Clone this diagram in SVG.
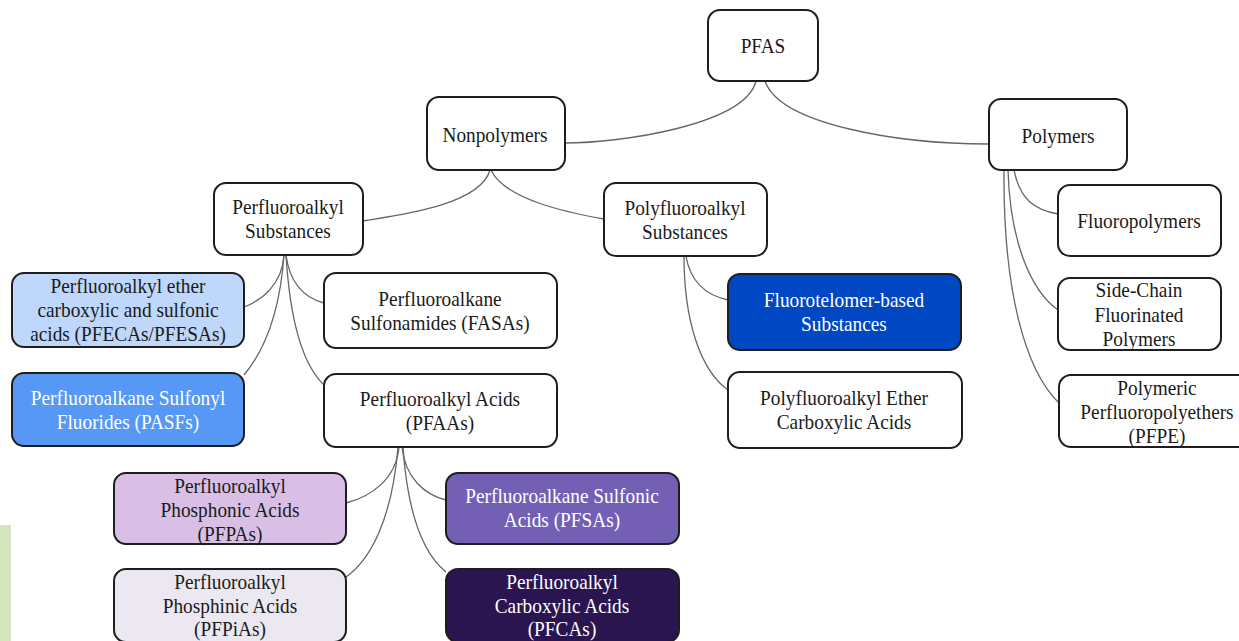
<svg xmlns="http://www.w3.org/2000/svg" width="1239" height="641" viewBox="0 0 1239 641">
<style>
.box{stroke:#1e1e1e;stroke-width:2;}
.t{font-family:"Liberation Serif","Times New Roman",serif;font-size:21px;fill:#1a1a1a;text-anchor:middle;transform-box:fill-box;transform-origin:center;transform:scaleX(0.92);}
.w{fill:#ffffff;}
.c{fill:none;stroke:#666;stroke-width:1.3;}
</style>
<rect x="0" y="0" width="1239" height="641" fill="#ffffff"/>
<rect id="greenbar" x="0" y="525" width="11" height="116" fill="#d5e4bd"/>
<g id="connectors">
<path class="c" d="M756,81 C745,125 620,143 565,143"/>
<path class="c" d="M765,81 C780,125 900,144 989,144"/>
<path class="c" d="M490,170 C480,205 400,215 363,221"/>
<path class="c" d="M491,170 C505,200 570,213 604,219"/>
<path class="c" d="M1014,170 C1020,200 1035,210 1058,214"/>
<path class="c" d="M1008,170 C1010,240 1030,290 1058,310"/>
<path class="c" d="M1004,170 C1003,290 1025,370 1059,403"/>
<path class="c" d="M284,255 C282,285 262,300 244,307"/>
<path class="c" d="M286,255 C290,285 305,298 324,303"/>
<path class="c" d="M284,255 C280,310 265,350 244,375"/>
<path class="c" d="M286,255 C290,320 303,365 324,385"/>
<path class="c" d="M686,256 C690,280 705,295 728,300"/>
<path class="c" d="M684,256 C684,320 700,370 728,390"/>
<path class="c" d="M399,447 C396,480 370,497 346,503"/>
<path class="c" d="M402,447 C405,478 425,495 446,500"/>
<path class="c" d="M398,447 C392,520 370,560 346,577"/>
<path class="c" d="M403,447 C408,520 425,555 446,572"/>
</g>
<g id="pfas">
<rect class="box" x="708" y="10" width="110" height="71" rx="12" fill="#fff"/>
<text class="t" x="763" y="53">PFAS</text>
</g>
<g id="nonpolymers">
<rect class="box" x="427" y="97" width="138" height="73" rx="12" fill="#fff"/>
<text class="t" x="495" y="142">Nonpolymers</text>
</g>
<g id="polymers">
<rect class="box" x="989" y="99" width="138" height="71" rx="12" fill="#fff"/>
<text class="t" x="1058" y="143">Polymers</text>
</g>
<g id="perfluoroalkyl-substances">
<rect class="box" x="214" y="183" width="149" height="72" rx="12" fill="#fff"/>
<text class="t" x="288" y="214">Perfluoroalkyl</text>
<text class="t" x="288" y="238">Substances</text>
</g>
<g id="polyfluoroalkyl-substances">
<rect class="box" x="604" y="183" width="163" height="73" rx="12" fill="#fff"/>
<text class="t" x="685" y="215">Polyfluoroalkyl</text>
<text class="t" x="685" y="239">Substances</text>
</g>
<g id="fluoropolymers">
<rect class="box" x="1058" y="185" width="163" height="71" rx="12" fill="#fff"/>
<text class="t" x="1139" y="228">Fluoropolymers</text>
</g>
<g id="pfecas">
<rect class="box" x="12" y="273" width="232" height="74" rx="12" fill="#bfd7fb"/>
<text class="t" x="128" y="293">Perfluoroalkyl ether</text>
<text class="t" x="128" y="317">carboxylic and sulfonic</text>
<text class="t" x="128" y="341">acids (PFECAs/PFESAs)</text>
</g>
<g id="fasas">
<rect class="box" x="324" y="273" width="233" height="75" rx="12" fill="#fff"/>
<text class="t" x="440" y="306">Perfluoroalkane</text>
<text class="t" x="440" y="330">Sulfonamides (FASAs)</text>
</g>
<g id="fluorotelomer">
<rect class="box" x="728" y="274" width="233" height="76" rx="12" fill="#0047c4"/>
<text class="t w" x="844" y="307">Fluorotelomer-based</text>
<text class="t w" x="844" y="331">Substances</text>
</g>
<g id="side-chain">
<rect class="box" x="1058" y="278" width="163" height="72" rx="12" fill="#fff"/>
<text class="t" x="1139" y="297">Side-Chain</text>
<text class="t" x="1139" y="322">Fluorinated</text>
<text class="t" x="1139" y="346">Polymers</text>
</g>
<g id="pasfs">
<rect class="box" x="12" y="373" width="232" height="73" rx="12" fill="#5798f7"/>
<text class="t w" x="128" y="405">Perfluoroalkane Sulfonyl</text>
<text class="t w" x="128" y="429">Fluorides (PASFs)</text>
</g>
<g id="pfaas">
<rect class="box" x="324" y="374" width="233" height="73" rx="12" fill="#fff"/>
<text class="t" x="440" y="406">Perfluoroalkyl Acids</text>
<text class="t" x="440" y="430">(PFAAs)</text>
</g>
<g id="ether-carboxylic">
<rect class="box" x="728" y="372" width="234" height="76" rx="12" fill="#fff"/>
<text class="t" x="844" y="405">Polyfluoroalkyl Ether</text>
<text class="t" x="844" y="429">Carboxylic Acids</text>
</g>
<g id="pfpe">
<rect class="box" x="1059" y="375" width="196" height="72" rx="12" fill="#fff"/>
<text class="t" x="1157" y="395">Polymeric</text>
<text class="t" x="1157" y="419">Perfluoropolyethers</text>
<text class="t" x="1157" y="443">(PFPE)</text>
</g>
<g id="pfpas">
<rect class="box" x="114" y="473" width="232" height="71" rx="12" fill="#d9bfe6"/>
<text class="t" x="230" y="493">Perfluoroalkyl</text>
<text class="t" x="230" y="517">Phosphonic Acids</text>
<text class="t" x="230" y="541">(PFPAs)</text>
</g>
<g id="pfsas">
<rect class="box" x="446" y="473" width="233" height="71" rx="12" fill="#735fb4"/>
<text class="t w" x="562" y="503">Perfluoroalkane Sulfonic</text>
<text class="t w" x="562" y="527">Acids (PFSAs)</text>
</g>
<g id="pfpias">
<rect class="box" x="114" y="569" width="232" height="73" rx="12" fill="#ebe8f1"/>
<text class="t" x="230" y="589">Perfluoroalkyl</text>
<text class="t" x="230" y="613">Phosphinic Acids</text>
<text class="t" x="230" y="636">(PFPiAs)</text>
</g>
<g id="pfcas">
<rect class="box" x="446" y="569" width="233" height="73" rx="12" fill="#2b1551"/>
<text class="t w" x="562" y="589">Perfluoroalkyl</text>
<text class="t w" x="562" y="613">Carboxylic Acids</text>
<text class="t w" x="562" y="636">(PFCAs)</text>
</g>
</svg>
